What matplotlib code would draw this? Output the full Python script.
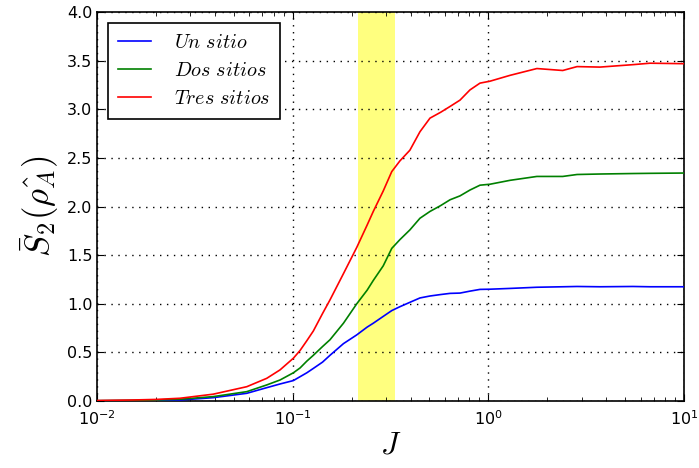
import matplotlib
matplotlib.use("Agg")
import matplotlib.pyplot as plt

plt.rcParams['mathtext.fontset'] = 'cm'
plt.rcParams['font.family'] = ['DejaVu Sans']

J = [0.01, 0.015, 0.02, 0.0265, 0.0392, 0.0582, 0.0736, 0.0861, 0.1007, 0.109,
     0.118, 0.1274, 0.142, 0.155, 0.1816, 0.2124, 0.24, 0.258, 0.29, 0.3207,
     0.353, 0.397, 0.447, 0.503, 0.57, 0.637, 0.716, 0.805, 0.906, 1.02,
     1.29, 1.77, 2.40, 2.84, 3.72, 5.48, 6.70, 10.0]

un_sitio = [0.002, 0.004, 0.006, 0.010, 0.034, 0.079, 0.137, 0.175, 0.21, 0.25,
            0.29, 0.335, 0.40, 0.47, 0.59, 0.68, 0.76, 0.80, 0.87, 0.93,
            0.97, 1.015, 1.06, 1.08, 1.095, 1.107, 1.11, 1.13, 1.148, 1.15,
            1.158, 1.17, 1.175, 1.178, 1.175, 1.178, 1.175, 1.175]

dos_sitios = [0.003, 0.006, 0.010, 0.018, 0.045, 0.096, 0.165, 0.216, 0.29, 0.34,
              0.41, 0.47, 0.56, 0.63, 0.80, 1.00, 1.14, 1.24, 1.39, 1.57,
              1.66, 1.76, 1.88, 1.95, 2.01, 2.07, 2.11, 2.17, 2.22, 2.23,
              2.27, 2.31, 2.31, 2.33, 2.335, 2.34, 2.342, 2.345]

tres_sitios = [0.005, 0.010, 0.016, 0.028, 0.07, 0.147, 0.233, 0.32, 0.44, 0.52,
               0.62, 0.72, 0.90, 1.04, 1.31, 1.58, 1.81, 1.95, 2.16, 2.36,
               2.47, 2.58, 2.77, 2.91, 2.97, 3.03, 3.095, 3.20, 3.27, 3.29,
               3.35, 3.42, 3.40, 3.44, 3.435, 3.46, 3.475, 3.47]

band = (0.215, 0.335)

fig = plt.figure(figsize=(6.99, 4.68), dpi=100)
ax = fig.add_axes([0.139, 0.1432, 0.8395, 0.8308])

ax.axvspan(band[0], band[1], color='yellow', alpha=0.5, lw=0, zorder=1)
ax.plot(J, un_sitio, color='blue', lw=1.2, label=r'$Un\ sitio$', zorder=3)
ax.plot(J, dos_sitios, color='green', lw=1.2, label=r'$Dos\ sitios$', zorder=3)
ax.plot(J, tres_sitios, color='red', lw=1.2, label=r'$Tres\ sitios$', zorder=3)

ax.set_xscale('log')
ax.set_xlim(0.01, 10)
ax.set_ylim(0, 4)
ax.set_yticks([0, 0.5, 1.0, 1.5, 2.0, 2.5, 3.0, 3.5, 4.0])
ax.grid(True, which='major', color='black', linestyle=(0, (1, 4)), lw=1.0, zorder=0)
ax.tick_params(which='both', direction='in', top=True, right=True, labelsize=11.5)
ax.tick_params(which='major', length=5, width=0.8)
ax.tick_params(which='minor', length=3, width=0.6)
ax.tick_params(axis='x', pad=6)
for s in ax.spines.values():
    s.set_linewidth(1.2)

ax.set_xlabel(r'$J$', fontsize=22, labelpad=2)
ax.set_ylabel(r'$\bar{S}_2(\hat{\rho_A})$', fontsize=25, labelpad=4)

leg = ax.legend(loc='upper left', fontsize=14.5, fancybox=False, framealpha=1,
                edgecolor='black', borderpad=0.5, handlelength=1.6,
                handletextpad=1.15, borderaxespad=0.55, labelspacing=0.45)
leg.get_frame().set_linewidth(1.2)

fig.savefig('out.png', dpi=100, facecolor='white')
